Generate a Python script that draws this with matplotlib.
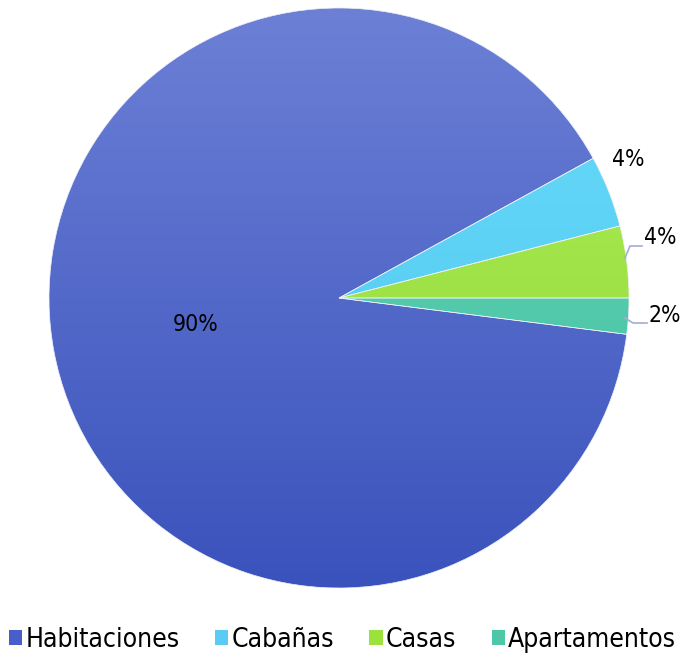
import numpy as np
import matplotlib
matplotlib.use("Agg")
import matplotlib.pyplot as plt
from matplotlib.colors import LinearSegmentedColormap
from matplotlib.patches import Patch

plt.rcParams['font.family'] = ['DejaVu Sans']
plt.rcParams['font.stretch'] = 'condensed'

# data
categories = ['Habitaciones', 'Cabañas', 'Casas', 'Apartamentos']
values = [90, 4, 4, 2]
pct_labels = ['90%', '4%', '4%', '2%']

# gradient colours (top, bottom) per slice
top_colors = ['#6c80d6', '#6cdcfa', '#b0f060', '#6ad8bc']
bottom_colors = ['#3a52bc', '#48c4ee', '#8cd42c', '#3cbc9c']
legend_colors = ['#4a5ec8', '#58ccf4', '#9ce23c', '#4cc8a8']

W, H = 685, 658
fig = plt.figure(figsize=(W / 100, H / 100), dpi=100)
cx, cy, r = 339, 298, 290
ax = fig.add_axes([(cx - r) / W, (H - cy - r) / H, 2 * r / W, 2 * r / H])

wedges, _ = ax.pie(values, startangle=352.8, counterclock=False, radius=1,
                   wedgeprops=dict(edgecolor='#eef0f8', linewidth=0.5, facecolor='none'))
ax.set_xlim(-1, 1)
ax.set_ylim(-1, 1)
ax.set_aspect('equal')
ax.axis('off')

grad = np.linspace(0, 1, 256).reshape(-1, 1)
for w, c1, c2 in zip(wedges, top_colors, bottom_colors):
    cmap = LinearSegmentedColormap.from_list('g', [c1, c2])
    im = ax.imshow(grad, cmap=cmap, extent=[-1, 1, -1, 1], aspect='auto', zorder=0)
    im.set_clip_path(w)

# percentage labels
label_pos = [(-0.493, -0.09), (0.997, 0.476), (1.107, 0.21), (1.124, -0.062)]
for (x, y), t in zip(label_pos, pct_labels):
    ax.text(x, y, t, fontsize=16.5, ha='center', va='center', color='black',
            clip_on=False)

# leader lines for the two small right-side slices
lc = '#a4acd4'
ax.plot([(625 - cx) / r, (630 - cx) / r, (642 - cx) / r],
        [(cy - 258) / r, (cy - 246) / r, (cy - 246) / r], color=lc, lw=1.2, clip_on=False)
ax.plot([(625 - cx) / r, (633 - cx) / r, (647 - cx) / r],
        [(cy - 318) / r, (cy - 323) / r, (cy - 323) / r], color=lc, lw=1.2, clip_on=False)

handles = [Patch(facecolor=c, edgecolor='none') for c in legend_colors]
fig.legend(handles, categories, loc='center', bbox_to_anchor=(0.5, 0.027), ncol=4,
           frameon=False, fontsize=19, handlelength=0.5, handleheight=0.5,
           handletextpad=0.12, columnspacing=1.35, borderaxespad=0)

fig.savefig('out.png', dpi=100)
